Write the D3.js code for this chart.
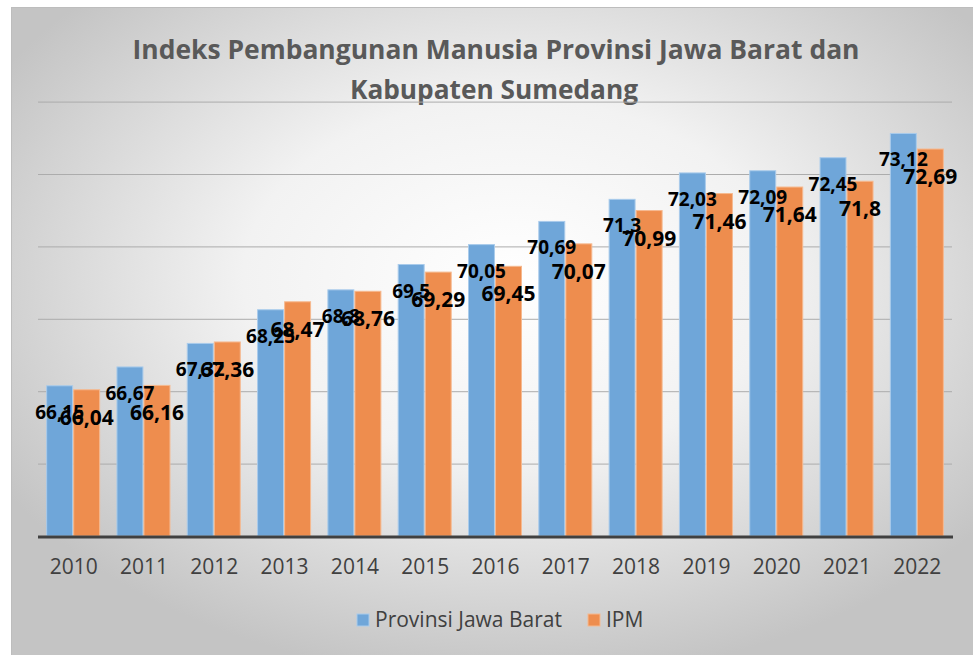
<!DOCTYPE html>
<head>
  <meta charset="utf-8">
  <script src="https://d3js.org/d3.v7.min.js"></script>
  <style>
    body { margin:0; background:#fff; }
    .grid line { stroke:#acacac; }
    .xAxis text { font-family:"Open Sans", sans-serif; font-size:21px; fill:#404040; }
    .lbl { font-family:"Open Sans", sans-serif; font-weight:bold; fill:#000; }
  </style>
</head>
<body>
<script>
  // values
  var years = ['2010','2011','2012','2013','2014','2015','2016','2017','2018','2019','2020','2021','2022'];
  var jabar = [66.15, 66.67, 67.32, 68.25, 68.8, 69.5, 70.05, 70.69, 71.3, 72.03, 72.09, 72.45, 73.12];
  var ipm   = [66.04, 66.16, 67.36, 68.47, 68.76, 69.29, 69.45, 70.07, 70.99, 71.46, 71.64, 71.8, 72.69];
  var seriesNames = ['Provinsi Jawa Barat', 'IPM'];
  var yDomain = [62, 74];

  var width = 973, height = 655;
  var plot = {left: 38, right: 952, top: 101.6, bottom: 536};

  var fills = ['#6fa6d9', '#ee8d4e'];
  var strokes = ['#a9cbeb', '#f6b98f'];

  var svg = d3.select('body').append('svg')
      .attr('width', width).attr('height', height);

  var defs = svg.append('defs');
  var grad = defs.append('radialGradient').attr('id', 'bg')
      .attr('cx', '52%').attr('cy', '42%').attr('r', '62%');
  grad.append('stop').attr('offset', '0%').attr('stop-color', '#ffffff');
  grad.append('stop').attr('offset', '45%').attr('stop-color', '#f2f2f2');
  grad.append('stop').attr('offset', '100%').attr('stop-color', '#c4c4c4');

  svg.append('rect')
      .attr('x', 11.5).attr('y', 7.5)
      .attr('width', width - 11).attr('height', height - 7)
      .attr('fill', 'url(#bg)')
      .attr('stroke', '#bdbdbd');

  // title
  var title = svg.append('g')
      .attr('font-family', '"Open Sans", sans-serif')
      .attr('font-weight', 'bold')
      .attr('font-size', 27)
      .attr('fill', '#595959')
      .attr('text-anchor', 'middle');
  title.append('text').attr('x', 496).attr('y', 59)
      .attr('textLength', 727).attr('lengthAdjust', 'spacingAndGlyphs')
      .text('Indeks Pembangunan Manusia Provinsi Jawa Barat dan');
  title.append('text').attr('x', 494).attr('y', 99)
      .attr('textLength', 288).attr('lengthAdjust', 'spacingAndGlyphs')
      .text('Kabupaten Sumedang');

  var x0 = d3.scalePoint().domain(years).range([plot.left, plot.right]).padding(0.5);
  var x1 = d3.scaleBand().domain(seriesNames).range([-26.5, 26.5]).paddingInner(0.04);
  var y = d3.scaleLinear().domain(yDomain).range([plot.bottom, plot.top]);

  // gridlines
  var grid = svg.append('g').attr('class', 'grid')
      .attr('transform', 'translate(' + plot.left + ',0)')
      .call(d3.axisLeft(y).tickValues(d3.range(64, 75, 2)).tickSize(-(plot.right - plot.left)).tickFormat(''));
  grid.select('.domain').remove();
  grid.selectAll('.tick').filter(function(d) { return d === 74; }).select('line').attr('stroke', '#d2d2d2');

  var rows = years.map(function(yr, i) {
    return {year: yr, values: [{s: seriesNames[0], v: jabar[i], k: 0}, {s: seriesNames[1], v: ipm[i], k: 1}]};
  });

  var groups = svg.selectAll('.yearG').data(rows).enter().append('g')
      .attr('class', 'yearG')
      .attr('transform', function(d) { return 'translate(' + x0(d.year) + ',0)'; });

  groups.selectAll('rect').data(function(d) { return d.values; }).enter().append('rect')
      .attr('x', function(d) { return x1(d.s); })
      .attr('width', x1.bandwidth())
      .attr('y', function(d) { return y(d.v); })
      .attr('height', function(d) { return y(yDomain[0]) - y(d.v); })
      .attr('fill', function(d) { return fills[d.k]; })
      .attr('stroke', function(d) { return strokes[d.k]; })
      .attr('stroke-width', 1);

  // baseline
  svg.append('line')
      .attr('x1', plot.left).attr('x2', plot.right + 1)
      .attr('y1', y(yDomain[0]) + 1).attr('y2', y(yDomain[0]) + 1)
      .attr('stroke', '#404040').attr('stroke-width', 3);

  // x axis labels
  var xAxisG = svg.append('g').attr('class', 'xAxis')
      .attr('transform', 'translate(0,' + (plot.bottom + 15) + ')')
      .call(d3.axisBottom(x0).tickSize(0).tickPadding(8));
  xAxisG.select('.domain').remove();

  // data labels, Jawa Barat first, IPM over it
  var labelSize = [19, 21];
  var labelOffset = [33, 35];
  [0, 1].forEach(function(k) {
    groups.append('text')
        .attr('class', 'lbl')
        .attr('text-anchor', 'middle')
        .attr('font-size', labelSize[k])
        .attr('x', function(d) { return x1(d.values[k].s) + x1.bandwidth() / 2; })
        .attr('y', function(d) { return y(d.values[k].v) + labelOffset[k]; })
        .text(function(d) { return String(d.values[k].v).replace('.', ','); });
  });

  // legend
  var legendX = [357, 588];
  var legend = svg.selectAll('.legend').data(seriesNames).enter().append('g')
      .attr('class', 'legend')
      .attr('transform', function(d, i) { return 'translate(' + legendX[i] + ',614)'; });
  legend.append('rect')
      .attr('width', 12).attr('height', 12)
      .attr('fill', function(d, i) { return fills[i]; })
      .attr('stroke', function(d, i) { return strokes[i]; });
  legend.append('text')
      .attr('x', 18).attr('y', 13)
      .attr('font-family', '"Open Sans", sans-serif')
      .attr('font-size', 21)
      .attr('fill', '#404040')
      .text(function(d) { return d; });
</script>
</body>
